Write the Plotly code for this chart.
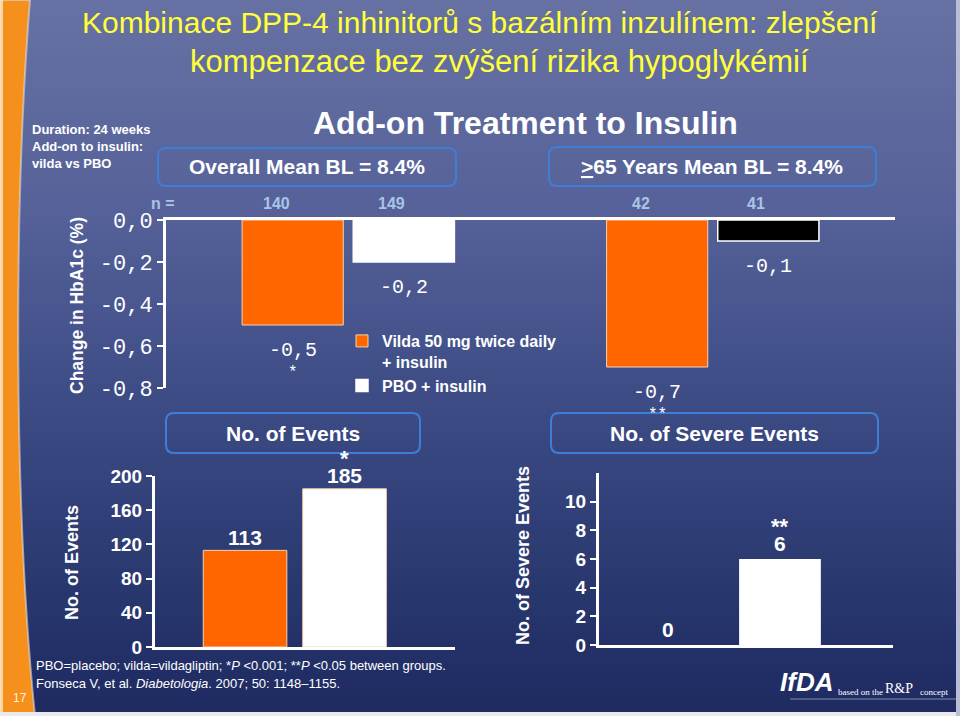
import plotly.graph_objects as go

# ---------------- data ----------------
groups = ["Overall", "≥65 Years"]
hba1c_vilda = [-0.5, -0.7]
hba1c_pbo = [-0.2, -0.1]
hba1c_sig_vilda = ["*", "**"]
n_vilda = [140, 42]
n_pbo = [149, 41]
hba1c_ticks = [0.0, -0.2, -0.4, -0.6, -0.8]
hba1c_ticktext = ["0,0", "-0,2", "-0,4", "-0,6", "-0,8"]

arms = ["Vilda", "PBO"]
events = [113, 185]
events_sig = ["", "*"]
events_ticks = [0, 40, 80, 120, 160, 200]
severe = [0, 6]
severe_sig = ["", "**"]
severe_ticks = [0, 2, 4, 6, 8, 10]

group_titles = ["Overall Mean BL = 8.4%", "<u>></u>65 Years Mean BL = 8.4%"]
panel_titles = ["No. of Events", "No. of Severe Events"]

# ---------------- style ----------------
W, H = 960, 716
SANS = "Liberation Sans, Arial, sans-serif"
MONO = "Liberation Mono, Courier New, monospace"
SERIF = "Liberation Serif, Times New Roman, serif"
ORANGE = "#ff6600"
PBO_COLORS = ["#ffffff", "#000000"]
BOX = "#3d7fd6"
NCOL = "#a9c5e3"


def px(x):
    return x / W


def py(y):
    return 1 - y / H


def fmt(v):
    return f"{v:.1f}".replace(".", ",")


fig = go.Figure()

fig.add_bar(x=groups, y=hba1c_vilda, name="Vilda 50 mg twice daily<br>+ insulin",
            marker=dict(color=ORANGE, line=dict(color="#f6d2b4", width=1)),
            xaxis="x", yaxis="y", hoverinfo="skip")
fig.add_bar(x=groups, y=hba1c_pbo, name="PBO + insulin",
            marker=dict(color=PBO_COLORS, line=dict(color="white", width=1.5)),
            xaxis="x", yaxis="y", hoverinfo="skip")
fig.add_bar(x=arms, y=events, width=0.84, showlegend=False,
            marker=dict(color=[ORANGE, "white"], line=dict(color="#f6d2b4", width=1)),
            xaxis="x2", yaxis="y2", hoverinfo="skip")
fig.add_bar(x=arms, y=severe, width=0.73, showlegend=False,
            marker=dict(color=[ORANGE, "white"], line=dict(width=0)),
            xaxis="x3", yaxis="y3", hoverinfo="skip")

ax = dict(showgrid=False, zeroline=False, showline=True, linecolor="white",
          linewidth=3, fixedrange=True, automargin=False)
yax = dict(ax, ticks="outside", ticklen=6, tickwidth=2, tickcolor="white")

fig.update_layout(
    xaxis=dict(ax, domain=[px(166), px(895)], range=[-0.5, 1.5], type="category",
               side="top", showticklabels=False, ticks="", anchor="y"),
    yaxis=dict(yax, domain=[py(388), py(220)], range=[-0.8, 0], tickvals=hba1c_ticks,
               ticktext=hba1c_ticktext, tickfont=dict(family=MONO, size=22, color="white"),
               anchor="x"),
    xaxis2=dict(ax, domain=[px(155), px(455)], range=[-0.905, 2.11], type="category",
                showticklabels=False, ticks="", anchor="y2"),
    yaxis2=dict(yax, domain=[py(647), py(476)], range=[0, 200], tickvals=events_ticks,
                tickfont=dict(family=SANS, size=19, color="white", weight="bold"),
                anchor="x2"),
    xaxis3=dict(ax, domain=[px(599), px(893)], range=[-0.616, 2.009], type="category",
                showticklabels=False, ticks="", anchor="y3"),
    yaxis3=dict(yax, domain=[py(645), py(473)], range=[0, 12], tickvals=severe_ticks,
                tickfont=dict(family=SANS, size=19, color="white", weight="bold"),
                anchor="x3"),
    barmode="group", bargap=0.39, bargroupgap=0.09,
    width=W, height=H, margin=dict(l=0, r=0, t=0, b=0, pad=0, autoexpand=False),
    paper_bgcolor="#3a4782", plot_bgcolor="rgba(0,0,0,0)",
    showlegend=True,
    legend=dict(x=px(342), y=py(324), xanchor="left", yanchor="top",
                bgcolor="rgba(0,0,0,0)", valign="top", tracegroupgap=2,
                font=dict(family=SANS, size=16, color="white", weight="bold")),
)

shapes = []
# background gradient
stops = [(0, (103, 113, 163)), (200, (86, 98, 153)), (400, (62, 76, 134)),
         (600, (40, 54, 110)), (716, (30, 42, 96))]


def bg_color(y):
    for (y0, c0), (y1, c1) in zip(stops[:-1], stops[1:]):
        if y0 <= y <= y1:
            t = (y - y0) / (y1 - y0)
            return "rgb(%d,%d,%d)" % tuple(round(a + (b - a) * t) for a, b in zip(c0, c1))
    return "rgb(30,42,96)"


for i in range(0, 716, 8):
    shapes.append(dict(type="rect", xref="paper", yref="paper", layer="below",
                       x0=0, x1=1, y0=py(min(i + 8, 716)), y1=py(i),
                       fillcolor=bg_color(i + 4), line=dict(width=0)))

# orange left stripe
shapes.append(dict(type="path", xref="paper", yref="paper", layer="below",
                   path=f"M 0,{py(0)} L {px(30)},{py(0)} C {px(14)},{py(200)} {px(13)},{py(500)} {px(35)},{py(716)} L 0,{py(716)} Z",
                   fillcolor="#f5901c", line=dict(color="rgba(220,225,240,0.55)", width=2)))
shapes.append(dict(type="rect", xref="paper", yref="paper", layer="below",
                   x0=0, x1=px(3), y0=0, y1=1, fillcolor="rgba(255,235,200,0.75)", line=dict(width=0)))
# slide edges
shapes.append(dict(type="rect", xref="paper", yref="paper", layer="below",
                   x0=0, x1=1, y0=0, y1=py(712), fillcolor="#e8e8ee", line=dict(width=0)))
shapes.append(dict(type="rect", xref="paper", yref="paper", layer="below",
                   x0=px(956), x1=1, y0=0, y1=1, fillcolor="#b8bed6", line=dict(width=0)))
# logo line
shapes.append(dict(type="line", xref="paper", yref="paper", layer="below",
                   x0=px(790), x1=1, y0=py(699), y1=py(699),
                   line=dict(color="rgba(200,205,225,0.6)", width=1)))


def rrect(x0, y0, x1, y1, r=8):
    X = px
    Y = py
    return (f"M {X(x0 + r)},{Y(y0)} L {X(x1 - r)},{Y(y0)} Q {X(x1)},{Y(y0)} {X(x1)},{Y(y0 + r)} "
            f"L {X(x1)},{Y(y1 - r)} Q {X(x1)},{Y(y1)} {X(x1 - r)},{Y(y1)} "
            f"L {X(x0 + r)},{Y(y1)} Q {X(x0)},{Y(y1)} {X(x0)},{Y(y1 - r)} "
            f"L {X(x0)},{Y(y0 + r)} Q {X(x0)},{Y(y0)} {X(x0 + r)},{Y(y0)} Z")


boxes = [(158, 148, 456, 186), (549, 147, 876, 186), (166, 413, 420, 453), (551, 413, 878, 453)]
for b in boxes:
    shapes.append(dict(type="path", xref="paper", yref="paper", path=rrect(*b),
                       line=dict(color=BOX, width=2), fillcolor="rgba(0,0,0,0)"))
fig.update_layout(shapes=shapes)

ann = []


def A(text, x, y, size, color="white", family=SANS, bold=True, xanchor="center",
      yanchor="middle", xref="paper", yref="paper", xshift=0, yshift=0, textangle=0,
      align="center", italic=False):
    f = dict(family=family, size=size, color=color)
    if bold:
        f["weight"] = "bold"
    if italic:
        f["style"] = "italic"
    ann.append(dict(text=text, x=x, y=y, xref=xref, yref=yref, showarrow=False,
                    font=f, xanchor=xanchor, yanchor=yanchor, xshift=xshift,
                    yshift=yshift, textangle=textangle, align=align))


# slide title
A("Kombinace DPP-4 inhinitorů s bazálním inzulínem: zlepšení", px(480), py(23), 30,
  color="#ffff3a", bold=False)
A("kompenzace bez zvýšení rizika hypoglykémií", px(499), py(62), 31,
  color="#ffff3a", bold=False)
A("Add-on Treatment to Insulin", px(525), py(123), 32)
A("Duration: 24 weeks<br>Add-on to insulin:<br>vilda vs PBO", px(30), py(120), 13,
  xanchor="left", yanchor="top", align="left")

# box titles
A(group_titles[0], px(307), py(167), 21)
A(group_titles[1], px(712), py(167), 21)
A(panel_titles[0], px(293), py(433), 21)
A(panel_titles[1], px(714), py(433), 21)

# axis titles
A("Change in HbA1c (%)", px(77), py(306), 17.5, textangle=-90)
A("No. of Events", px(72), py(563), 18, textangle=-90)
A("No. of Severe Events", px(523), py(556), 18, textangle=-90)

# n = labels
A("n =", px(163), py(203), 16, color=NCOL)
for g, nv, npb in zip(groups, n_vilda, n_pbo):
    A(str(nv), g, 0, 16, color=NCOL, xref="x", yref="y", xshift=-72, yshift=17)
    A(str(npb), g, 0, 16, color=NCOL, xref="x", yref="y", xshift=43, yshift=17)

# HbA1c value labels
for g, v, p, s in zip(groups, hba1c_vilda, hba1c_pbo, hba1c_sig_vilda):
    A(fmt(v), g, v, 20, family=MONO, bold=False, xref="x", yref="y", xshift=-55.5, yshift=-25)
    A(s, g, v, 16, family=MONO, bold=False, xref="x", yref="y", xshift=-55.5, yshift=-48)
    A(fmt(p), g, p, 20, family=MONO, bold=False, xref="x", yref="y", xshift=55.5, yshift=-25)

# events labels
for a, v, s in zip(arms, events, events_sig):
    A(str(v), a, v, 21, xref="x2", yref="y2", yshift=13)
    if s:
        A(s, a, v, 22, xref="x2", yref="y2", yshift=30)
for a, v, s in zip(arms, severe, severe_sig):
    A(str(v), a, v, 21, xref="x3", yref="y3", yshift=16)
    if s:
        A(s, a, v, 22, xref="x3", yref="y3", yshift=33)

# footnote
A("PBO=placebo; vilda=vildagliptin; *<i>P</i> &lt;0.001; **<i>P</i> &lt;0.05 between groups.",
  px(34), py(665), 13, bold=False, xanchor="left")
A("Fonseca V, et al. <i>Diabetologia</i>. 2007; 50: 1148–1155.", px(34), py(683), 13,
  bold=False, xanchor="left")
A("17", px(20), py(698), 12, color="#fff2dc", bold=False)

# logo
A("IfDA", px(806), py(682), 26, italic=True)
A("based on the", px(836), py(692), 9, family=SERIF, bold=False, xanchor="left")
A("R&amp;P", px(899), py(688), 14, family=SERIF, bold=False)
A("concept", px(918), py(692), 9, family=SERIF, bold=False, xanchor="left")

fig.update_layout(annotations=ann)
fig.write_html("out.html", config={"displayModeBar": False},
               post_script="document.body.style.margin='0';")
